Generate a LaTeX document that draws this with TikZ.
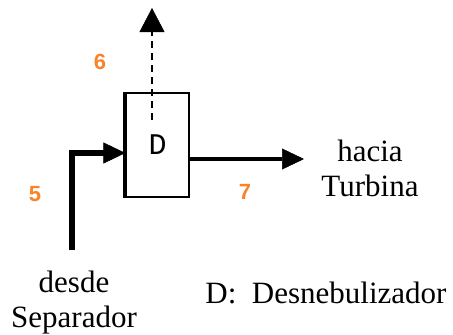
\documentclass[tikz,border=0pt]{standalone}
\usepackage{fontspec}
\setmainfont{Liberation Serif}
\newfontfamily\numfont{Liberation Sans}
\newfontfamily\boxfont{Liberation Mono}
\usepackage{tikz}
\usetikzlibrary{positioning, arrows.meta, calc}
\definecolor{flujo}{RGB}{250,130,40}
\tikzset{
    equipo/.style={draw, line width=1.2pt, minimum width=63pt, minimum height=104pt, inner sep=0pt, font=\boxfont\fontsize{30}{32}\selectfont},
    corriente/.style={-{Triangle[length=22pt, width=21pt, line width=0.5pt]}},
    numero/.style={font=\numfont\bfseries\fontsize{22}{24}\selectfont, text=flujo},
    rotulo/.style={font=\fontsize{31}{35}\selectfont, align=center, inner sep=0pt},
}

\begin{document}
\begin{tikzpicture}[x=1pt, y=-1pt]
        \useasboundingbox (0,0) rectangle (453,335);
        % Equipo
        \node[equipo] (des) at (157.5,145) {D};
        \draw[line width=4pt] (des.north west) -- (des.south west);
        % Puntos libres
        \coordinate (ent) at (72,250);
        \coordinate (sal) at (304,159);
        \coordinate (arr) at (152,120);
        \coordinate (cue) at (152,33);
        \coordinate (top) at (152,8);
        % Corrientes
        \draw[corriente, line width=6pt] (ent) |- ([yshift=-8pt]des.west);
        \draw[corriente, line width=3.5pt] ([yshift=-14pt]des.east) -- (sal);
        \draw[line width=1.8pt, dash pattern=on 7pt off 5pt] (arr) -- (cue);
        \draw[line width=1.8pt, -{Triangle[length=24pt, width=25pt, line width=0.5pt]}] (cue) -- (top);
        % Numeros
        \node[numero] (n5) at (35,194) {5};
        \node[numero] (n6) at (100,62) {6};
        \node[numero] (n7) at (245,192) {7};
        % Textos
        \node[rotulo] (tur) at (370,168) {hacia\\Turbina};
        \node[rotulo] (sep) at (74,303) {desde\\Separador};
        \node[rotulo] (ley) at (326,293) {D:\ \ Desnebulizador};
    \end{tikzpicture}
\end{document}
